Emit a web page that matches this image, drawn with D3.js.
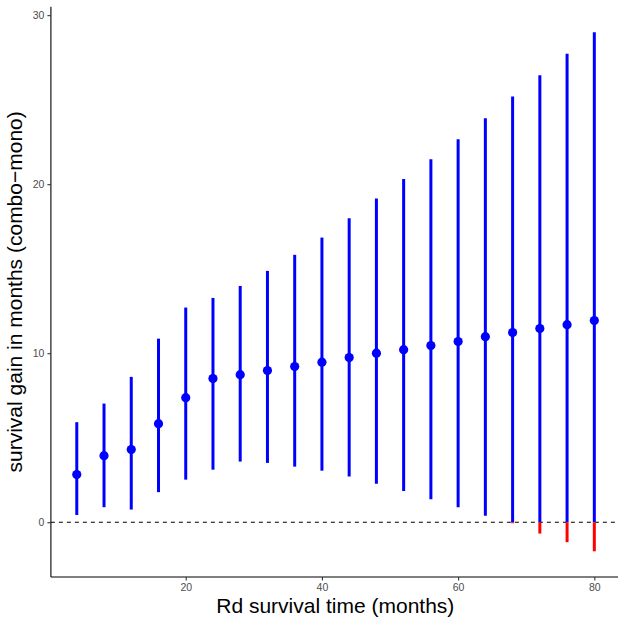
<!DOCTYPE html>
<html><head><meta charset="utf-8">
<script src="https://cdn.jsdelivr.net/npm/d3@7"></script>
<style>body{margin:0;background:#fff}svg{display:block}</style>
</head><body>
<svg id="c" width="618" height="621"></svg>
<script>
const times = [4,8,12,16,20,24,28,32,36,40,44,48,52,56,60,64,68,72,76,80];
const gain  = [2.82,3.94,4.30,5.83,7.37,8.50,8.73,8.97,9.21,9.47,9.74,10.00,10.21,10.45,10.69,10.98,11.22,11.46,11.69,11.93];
const upper = [5.92,7.02,8.60,10.86,12.70,13.27,13.98,14.87,15.82,16.84,17.99,19.15,20.30,21.48,22.66,23.90,25.18,26.45,27.71,28.99];
const lower = [0.43,0.89,0.75,1.78,2.52,3.11,3.59,3.51,3.29,3.05,2.70,2.28,1.85,1.36,0.89,0.39,-0.06,-0.67,-1.18,-1.72];
const xTicks = [20,40,60,80];
const yTicks = [0,10,20,30];
const xTitle = "Rd survival time (months)";
const yTitle = "survival gain in months (combo\u2212mono)";

const data = times.map((t,i)=>({t, g:gain[i], lo:lower[i], hi:upper[i]}));
const svg = d3.select("#c");
const x = d3.scaleLinear().domain([0.2,83.8]).range([50.9,620.2]);
const y = d3.scaleLinear().domain([-3.24,30.5]).range([577,6.7]);
const L = 50.9, B = 577;

// dashed zero line
svg.append("line").attr("x1",L).attr("x2",618).attr("y1",y(0)).attr("y2",y(0))
  .attr("stroke","#000").attr("stroke-width",1.1).attr("stroke-dasharray","4,4");

const g = svg.append("g");
// blue part (>=0)
g.selectAll("line.b").data(data).join("line").attr("class","b")
  .attr("x1",d=>x(d.t)).attr("x2",d=>x(d.t))
  .attr("y1",d=>y(Math.max(d.lo,0))).attr("y2",d=>y(d.hi))
  .attr("stroke","#0000ff").attr("stroke-width",3);
// red part (<0)
g.selectAll("line.r").data(data.filter(d=>d.lo<0)).join("line").attr("class","r")
  .attr("x1",d=>x(d.t)).attr("x2",d=>x(d.t))
  .attr("y1",d=>y(d.lo)).attr("y2",d=>y(0))
  .attr("stroke","#ff0000").attr("stroke-width",3);
g.selectAll("circle").data(data).join("circle")
  .attr("cx",d=>x(d.t)).attr("cy",d=>y(d.g)).attr("r",4.6).attr("fill","#0000ff");

// axes
const xa = svg.append("g").attr("transform",`translate(0,${B})`)
  .call(d3.axisBottom(x).tickValues(xTicks).tickSize(3.5).tickPadding(3));
const ya = svg.append("g").attr("transform",`translate(${L},0)`)
  .call(d3.axisLeft(y).tickValues(yTicks).tickSize(3.5).tickPadding(3));
[xa,ya].forEach(a=>{
  a.select(".domain").attr("stroke","#000").attr("stroke-width",1.1);
  a.selectAll(".tick line").attr("stroke","#333").attr("stroke-width",1.1);
  a.selectAll(".tick text").attr("fill","#4d4d4d").style("font-family","Liberation Sans, Arial, sans-serif").style("font-size","10.5px");
});
ya.select(".domain").attr("d",`M0,${B}V6.7`);
xa.select(".domain").attr("d",`M${L},0H618`);

svg.append("text").attr("x",335.3).attr("y",612.5).attr("text-anchor","middle")
  .style("font-family","Liberation Sans, Arial, sans-serif").style("font-size","21px").text(xTitle);
svg.append("text").attr("transform",`translate(21.5,${(6.7+577)/2}) rotate(-90)`).attr("text-anchor","middle")
  .style("font-family","Liberation Sans, Arial, sans-serif").style("font-size","21px").text(yTitle);
</script>
</body></html>
